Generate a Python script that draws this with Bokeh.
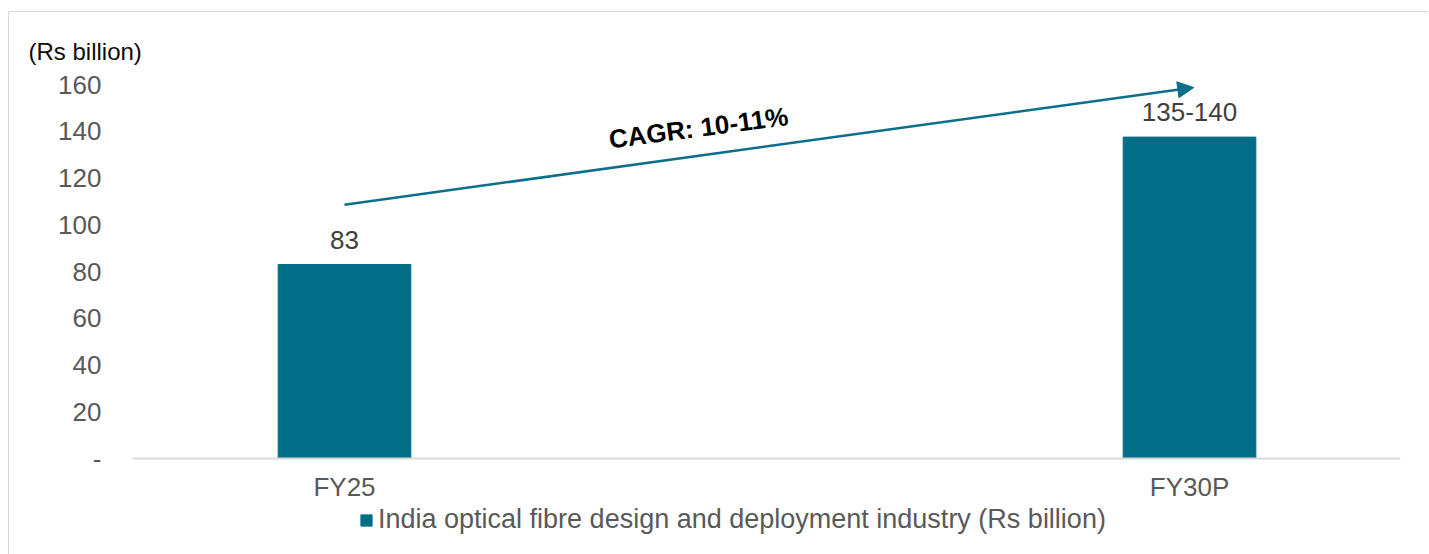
from bokeh.plotting import figure
from bokeh.models import (ColumnDataSource, FixedTicker, Label, Arrow, NormalHead,
                          Legend, LegendItem, Range1d, Title)
from bokeh.core.properties import value
from bokeh.embed import file_html
from bokeh.resources import INLINE

# ---- data ----
categories = ["FY25", "FY30P"]
cat_pos = [0, 1]
values = [83, 137.5]
value_labels = ["83", "135-140"]
y_ticks = [0, 20, 40, 60, 80, 100, 120, 140, 160]
y_tick_labels = ["-", "20", "40", "60", "80", "100", "120", "140", "160"]
series_name = "India optical fibre design and deployment industry (Rs billion)"
unit_label = "(Rs billion)"
cagr_text = "CAGR: 10-11%"
cagr_start = (0.0, 108.6)
cagr_end = (1.005, 158.7)

BAR = "#006E87"
FONT = "Liberation Sans"

p = figure(frame_width=1268, frame_height=490, output_backend="svg", toolbar_location=None,
           x_range=Range1d(-0.2509, 1.2497), y_range=Range1d(-41.06, 168.57),
           min_border_left=123, min_border_right=28, min_border_top=52,
           min_border_bottom=0, margin=(11, 0, 0, 8))
p.styles = {"border-top": "1px solid #d9d9d9", "border-left": "1px solid #d9d9d9"}
p.outline_line_color = None
p.xgrid.grid_line_color = None
p.ygrid.grid_line_color = None
p.background_fill_color = "white"
p.border_fill_color = "white"

src = ColumnDataSource(dict(x=cat_pos, top=values, lab=value_labels))
bars = p.vbar(x="x", top="top", bottom=0, width=0.157, source=src,
              fill_color=BAR, line_color=BAR)
p.text(x="x", y="top", text="lab", source=src, text_align="center", text_baseline="middle",
       y_offset=-25, text_font=value(FONT), text_font_size="26px", text_color="#404040")

# axes
p.yaxis.ticker = FixedTicker(ticks=y_ticks)
p.yaxis.major_label_overrides = {t: l for t, l in zip(y_ticks, y_tick_labels)}
p.yaxis.axis_line_color = None
p.yaxis.major_tick_line_color = None
p.yaxis.minor_tick_line_color = None
p.yaxis.major_tick_out = 0
p.yaxis.major_label_standoff = 31
p.yaxis.major_label_text_font = FONT
p.yaxis.major_label_text_font_size = "26px"
p.yaxis.major_label_text_color = "#595959"

p.xaxis.fixed_location = 0
p.xaxis.ticker = FixedTicker(ticks=cat_pos)
p.xaxis.major_label_overrides = {c: n for c, n in zip(cat_pos, categories)}
p.xaxis.axis_line_color = "#d9d9d9"
p.xaxis.axis_line_width = 2
p.xaxis.major_tick_line_color = None
p.xaxis.minor_tick_line_color = None
p.xaxis.major_tick_out = 0
p.xaxis.major_tick_in = 0
p.xaxis.major_label_standoff = 13
p.xaxis.major_label_text_font = FONT
p.xaxis.major_label_text_font_size = "26px"
p.xaxis.major_label_text_color = "#595959"

# unit label as a left-offset title
p.add_layout(Title(text=unit_label, align="left", offset=-104, standoff=0,
                   text_font=FONT, text_font_size="24px", text_font_style="normal",
                   text_color="#0d0d0d"), "above")

# CAGR arrow + label
p.add_layout(Arrow(x_start=cagr_start[0], y_start=cagr_start[1],
                   x_end=cagr_end[0], y_end=cagr_end[1],
                   line_color="#0B6E8A", line_width=2.5,
                   end=NormalHead(size=16, fill_color="#0B6E8A", line_color="#0B6E8A")))
p.add_layout(Label(x=0.419, y=141.5, text=cagr_text, text_font=FONT,
                   text_font_size="26px", text_font_style="bold", text_color="black",
                   text_align="center", text_baseline="middle", angle=7.5, angle_units="deg"))

# legend (inside the frame, below the category axis)
legend = Legend(items=[LegendItem(label=series_name, renderers=[bars])],
                location=(227, 19), orientation="horizontal",
                glyph_width=14, glyph_height=14, label_standoff=5,
                label_text_font=FONT, label_text_font_size="27px",
                label_text_color="#595959", label_height=26,
                padding=0, margin=0, border_line_color=None,
                background_fill_alpha=0)
p.add_layout(legend, "center")

open("out.html", "w").write(file_html(p, INLINE))
